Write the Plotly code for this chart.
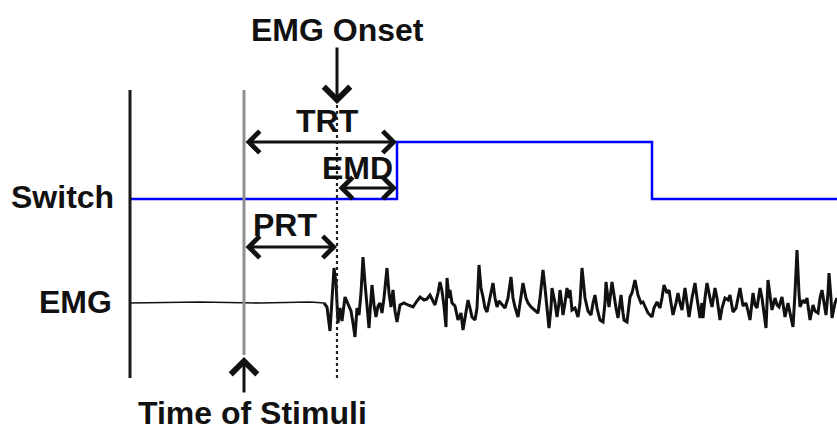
import plotly.graph_objects as go

# ---- data (time in arbitrary units, amplitude in arbitrary units) ----
t_stimulus = 244
t_onset = 337
t_switch_on = 397
t_switch_off = 652
t_start = 130
t_end = 837

switch_time = [t_start, t_switch_on, t_switch_on, t_switch_off, t_switch_off, t_end]
switch_state = [0, 0, 1, 1, 0, 0]

emg_time = [130, 200, 260, 310, 324, 327, 330, 332, 334, 336, 338, 340, 342, 345, 348, 351, 353, 355, 357, 359,
            361, 363, 365, 367, 369, 371, 372, 374, 376, 378, 380, 382, 384, 387, 389, 391, 393, 395, 397, 400,
            404, 408, 413, 417, 420, 424, 427, 430, 433, 435, 438, 440, 442, 444, 446, 447, 449, 450, 452, 455,
            458, 461, 463, 466, 468, 470, 472, 475, 477, 479, 481, 483, 485, 487, 490, 493, 495, 497, 499, 502,
            505, 508, 511, 513, 515, 518, 520, 523, 526, 528, 531, 535, 538, 540, 543, 545, 547, 549, 551, 552,
            555, 557, 559, 560, 562, 563, 565, 567, 569, 570, 572, 575, 578, 580, 582, 585, 588, 591, 593, 595,
            597, 600, 603, 605, 606, 609, 612, 614, 616, 618, 621, 623, 624, 627, 630, 632, 635, 638, 641, 643,
            646, 648, 652, 654, 657, 660, 662, 664, 667, 669, 671, 673, 676, 678, 680, 682, 685, 687, 689, 692,
            695, 697, 700, 702, 703, 705, 707, 710, 712, 715, 717, 720, 722, 725, 728, 730, 733, 736, 738, 740,
            743, 746, 748, 750, 753, 755, 757, 760, 762, 764, 766, 768, 770, 772, 775, 777, 779, 782, 785, 788,
            790, 793, 795, 797, 799, 800, 803, 805, 807, 810, 813, 815, 818, 820, 822, 824, 826, 828, 829, 831,
            832, 835, 837]
emg_amp = [0, 1, 0, 1, 0, -4, -28, 5, 35, 20, -20, -5, -18, 6, -2, -8, -20, -34, -5, -12,
           10, 46, 20, -5, -25, 5, 18, -2, -14, -3, 0, -10, 5, 35, 10, -4, 13, -8, -19, -2,
           0, -2, -4, 2, 6, 3, 4, 8, 2, -2, 10, 21, 12, -3, -24, 25, 5, 13, 0, -3,
           -17, -10, -27, -10, 3, -5, -14, -17, -5, 38, 15, 6, -5, -9, 5, 20, 5, -4, 2, -2,
           -5, 5, 26, 5, -4, -14, 0, 20, 5, 0, -4, -7, -10, 5, 33, 15, -4, -25, -5, 15,
           0, -14, 0, 13, -2, -12, 0, 15, 5, 13, -7, -5, -14, 0, 35, 5, -8, -12, 0, 8,
           -5, -17, -19, 0, 21, -4, 21, 5, -5, -15, 8, -10, -17, -19, 6, 10, 23, 8, 0, 1,
           -5, -10, -14, -5, 1, -5, 5, 18, 10, 13, 0, -12, 0, 10, 0, -7, 15, 0, -14, 5,
           20, 5, -15, 0, -15, 5, 20, 5, -4, 15, 5, -17, -5, 5, 3, 8, -9, -5, 5, 15,
           -3, 0, -8, -17, 10, -2, -5, 15, 5, -10, -25, 23, 5, -7, 5, -2, -4, 6, -14, 0,
           -10, -24, 10, 53, 10, -4, 3, 0, 5, -17, -2, -8, -10, 5, 13, 0, -12, 10, 30, 5,
           -15, 0, 5]

labels = {"switch": "Switch", "emg": "EMG", "stim": "Time of Stimuli", "onset": "EMG Onset",
          "trt": "TRT", "emd": "EMD", "prt": "PRT"}

# ---- layout levels ----
W, H = 837, 435
emg_base = 132
switch_low, switch_high = 236, 293

fig = go.Figure()
fig.add_trace(go.Scatter(x=switch_time,
                         y=[switch_low + s * (switch_high - switch_low) for s in switch_state],
                         mode="lines", line=dict(color="#0000ff", width=2.5), hoverinfo="skip"))
# quiet baseline (thin) and active part (thick)
n_quiet = 5
fig.add_trace(go.Scatter(x=emg_time[:n_quiet], y=[emg_base + a for a in emg_amp[:n_quiet]],
                         mode="lines", line=dict(color="#111111", width=1.6), hoverinfo="skip"))
fig.add_trace(go.Scatter(x=emg_time[n_quiet - 1:], y=[emg_base + a for a in emg_amp[n_quiet - 1:]],
                         mode="lines", line=dict(color="#111111", width=3), hoverinfo="skip"))

shapes = [
    dict(type="line", x0=t_start, x1=t_start, y0=57, y1=345, line=dict(color="#1a1a1a", width=3)),
    dict(type="line", x0=t_stimulus, x1=t_stimulus, y0=80, y1=345, line=dict(color="#8f8f8f", width=3)),
    dict(type="line", x0=t_onset, x1=t_onset, y0=57, y1=330, line=dict(color="#222222", width=2.2, dash="dot")),
]
fig.update_layout(shapes=shapes)

font = dict(family="Liberation Sans, Arial, sans-serif", size=32, color="#111111")
ann = []
def text(x, y, s, xanchor="center"):
    ann.append(dict(x=x, y=y, text="<b>%s</b>" % s, showarrow=False, xanchor=xanchor,
                    yanchor="middle", font=font))

def arrow(x, y, ax, ay, both=False, size=1.4):
    ann.append(dict(x=x, y=y, ax=ax, ay=ay, xref="x", yref="y", axref="x", ayref="y",
                    text="", showarrow=True, arrowhead=4, arrowsize=size, arrowwidth=3,
                    arrowcolor="#111111", standoff=0, startstandoff=0,
                    arrowside="end+start" if both else "end", startarrowhead=4,
                    startarrowsize=size))

text(62, H - 197, labels["switch"])
text(75, H - 302, labels["emg"])
text(252, H - 413, labels["stim"])
text(t_onset, H - 30, labels["onset"])
text(327, H - 121, labels["trt"])
text(357, H - 168, labels["emd"])
text(285, H - 225, labels["prt"])

arrow(t_onset, H - 104, t_onset, H - 46, size=1.7)
arrow(t_stimulus, H - 357, t_stimulus, H - 394, size=1.7)
arrow(t_switch_on, switch_high, t_stimulus, switch_high, both=True)
arrow(t_switch_on, H - 188, t_onset, H - 188, both=True)
arrow(t_onset, H - 247, t_stimulus, H - 247, both=True)
fig.update_layout(annotations=ann)

fig.update_layout(width=W, height=H, margin=dict(l=0, r=0, t=0, b=0),
                  paper_bgcolor="white", plot_bgcolor="white", showlegend=False,
                  xaxis=dict(range=[0, W], visible=False, fixedrange=True),
                  yaxis=dict(range=[0, H], visible=False, fixedrange=True))
fig.write_html("out.html")
